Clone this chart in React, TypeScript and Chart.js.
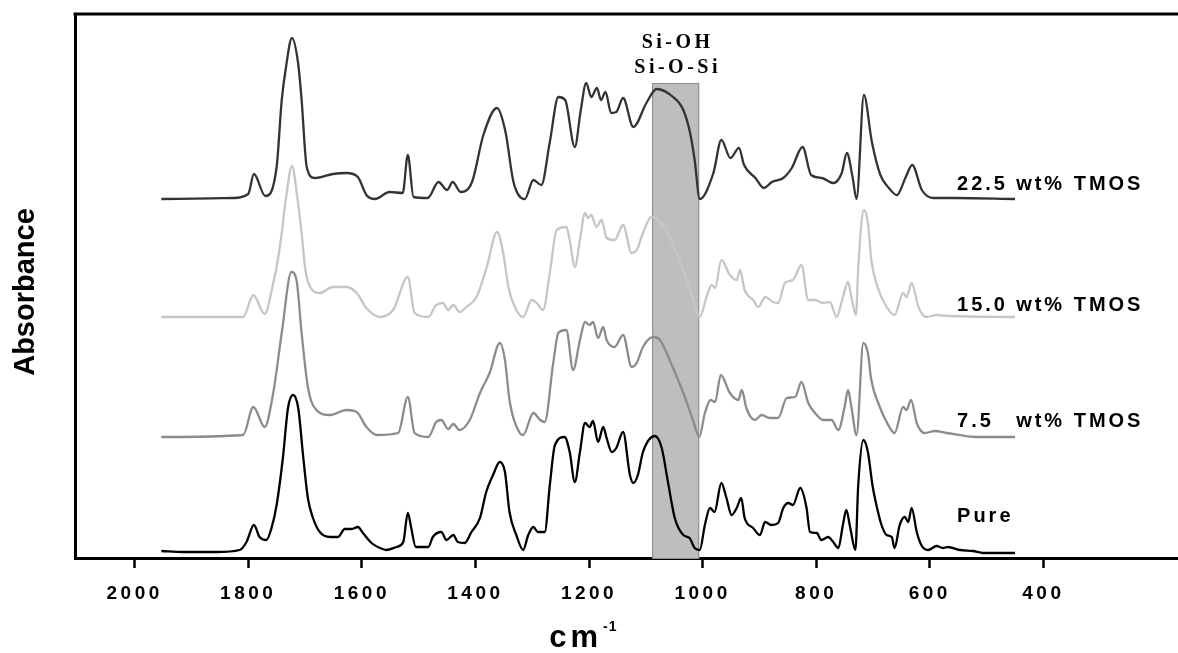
import React, { useEffect, useRef } from 'react';
import { Chart, registerables } from 'chart.js';

Chart.register(...registerables);

// ---- Axis ----
const tickValues = [2000, 1800, 1600, 1400, 1200, 1000, 800, 600, 400];
const xAxisMin = 163;
const xAxisMax = 2105;
const yAxisMax = 5.44;

// ---- Series names & vertical offsets (stacked spectra) ----
const seriesNumbers = ['Pure', '7.5', '15.0', '22.5'];
const seriesOffsets = [0.05, 1.21, 2.41, 3.59];
const seriesColors = ['#000000', '#8c8c8c', '#c6c6c6', '#333333'];

// ---- Pure ----
const pureWavenumber = [1953,1915,1856,1815,1803,1790,1780,1768,1759,1750,1739,1730,1721,1712,1703,1695,1686,1674,1656,1642,1630,1618,1607,1598,1583,1568,1557,1539,1527,1519,1513,1505,1483,1475,1460,1451,1439,1431,1419,1407,1392,1381,1369,1357,1348,1340,1328,1316,1307,1298,1290,1278,1269,1260,1243,1234,1225,1216,1207,1199,1193,1184,1175,1169,1160,1152,1140,1128,1122,1114,1105,1084,1072,1061,1049,1034,1023,1014,1005,996,987,979,967,958,949,940,932,926,911,899,890,879,867,858,849,841,828,817,811,799,791,779,770,761,753,747,740,731,726,717,709,701,694,685,676,667,662,653,644,638,632,623,615,603,588,577,568,547,524,506,450];
const pureAbsorbance = [0.02,0.01,0.01,0.03,0.11,0.28,0.16,0.13,0.25,0.48,0.95,1.45,1.58,1.45,0.95,0.55,0.35,0.21,0.16,0.16,0.24,0.24,0.26,0.20,0.10,0.05,0.03,0.06,0.11,0.40,0.25,0.06,0.06,0.16,0.21,0.13,0.18,0.11,0.10,0.21,0.35,0.61,0.78,0.91,0.81,0.41,0.18,0.03,0.18,0.26,0.21,0.21,0.68,1.08,1.16,1.01,0.71,1.01,1.30,1.26,1.32,1.11,1.26,1.15,1.01,1.05,1.21,0.78,0.70,0.78,1.01,1.17,1.05,0.71,0.35,0.18,0.15,0.05,0.03,0.28,0.45,0.41,0.70,0.55,0.38,0.45,0.55,0.35,0.25,0.18,0.31,0.28,0.30,0.45,0.50,0.48,0.65,0.45,0.21,0.20,0.13,0.16,0.11,0.05,0.28,0.43,0.25,0.03,0.68,1.13,1.01,0.68,0.48,0.28,0.18,0.16,0.05,0.28,0.36,0.31,0.45,0.21,0.08,0.03,0.07,0.05,0.06,0.03,0.02,0.00,0.00];

// ---- 7.5 wt% TMOS ----
const tmos75Wavenumber = [1953,1809,1791,1771,1756,1741,1724,1715,1706,1695,1680,1656,1627,1609,1592,1574,1536,1519,1507,1483,1469,1460,1448,1439,1428,1410,1392,1375,1357,1348,1340,1322,1316,1298,1286,1278,1263,1254,1240,1228,1216,1207,1199,1193,1184,1175,1169,1155,1140,1125,1116,1105,1087,1075,1058,1034,1017,1006,996,986,978,968,952,937,931,923,908,896,882,867,852,837,826,814,802,788,773,761,750,744,738,729,717,709,703,688,676,662,647,641,633,623,609,591,570,518,450];
const tmos75Absorbance = [0,0.02,0.30,0.10,0.44,1.04,1.65,1.57,1.04,0.50,0.27,0.22,0.27,0.25,0.10,0.02,0.04,0.40,0.04,0.00,0.15,0.17,0.08,0.13,0.07,0.17,0.44,0.64,0.94,0.77,0.37,0.04,0.02,0.24,0.17,0.15,0.74,1.04,1.07,0.67,0.97,1.15,1.12,1.15,0.99,1.10,0.97,0.90,1.02,0.70,0.74,0.90,1.00,0.97,0.77,0.44,0.17,0.00,0.24,0.37,0.35,0.62,0.44,0.37,0.47,0.29,0.17,0.22,0.19,0.19,0.39,0.40,0.55,0.34,0.24,0.17,0.17,0.07,0.30,0.47,0.30,0.02,0.94,0.84,0.57,0.30,0.15,0.04,0.30,0.27,0.37,0.14,0.04,0.06,0.04,0,0];

// ---- 15.0 wt% TMOS ----
const tmos150Wavenumber = [1953,1809,1791,1771,1756,1750,1741,1734,1723,1713,1706,1700,1694,1674,1651,1627,1609,1592,1568,1545,1519,1507,1483,1469,1457,1448,1439,1428,1416,1398,1380,1362,1351,1342,1328,1316,1301,1292,1281,1269,1257,1240,1234,1225,1216,1207,1202,1196,1187,1178,1169,1155,1140,1125,1116,1105,1090,1070,1050,1030,1015,1005,993,984,978,967,952,940,934,926,911,902,890,876,867,855,841,826,814,802,788,776,764,753,744,738,730,726,716,709,703,692,676,662,647,641,632,620,606,588,565,450];
const tmos150Absorbance = [0,0,0.22,0.03,0.34,0.50,0.84,1.17,1.51,1.17,0.84,0.50,0.34,0.24,0.30,0.30,0.24,0.09,0.00,0.07,0.40,0.04,0.00,0.12,0.14,0.07,0.12,0.05,0.10,0.20,0.50,0.85,0.64,0.30,0.07,0.00,0.17,0.14,0.07,0.44,0.87,0.90,0.77,0.50,0.77,1.04,0.99,1.02,0.90,0.97,0.79,0.77,0.92,0.64,0.67,0.84,1.00,0.92,0.70,0.40,0.15,0.00,0.20,0.32,0.29,0.57,0.42,0.37,0.47,0.27,0.17,0.10,0.20,0.15,0.14,0.34,0.37,0.52,0.17,0.17,0.14,0.15,0.00,0.20,0.35,0.20,0.02,0.50,1.07,0.94,0.57,0.30,0.10,0.02,0.24,0.20,0.34,0.10,0.00,0.02,0.01,0];

// ---- 22.5 wt% TMOS ----
const tmos225Wavenumber = [1953,1827,1800,1790,1770,1750,1741,1734,1723,1712,1706,1697,1683,1651,1627,1607,1592,1577,1551,1528,1519,1509,1484,1465,1450,1440,1426,1406,1386,1362,1347,1333,1313,1298,1284,1269,1254,1242,1225,1215,1205,1196,1186,1179,1171,1161,1152,1140,1122,1099,1081,1052,1034,1022,1014,1005,981,967,951,936,927,907,892,878,858,843,824,809,790,770,755,746,736,729,716,702,687,672,658,643,631,614,594,555,450];
const tmos225Absorbance = [0,0.01,0.05,0.25,0.03,0.32,0.99,1.30,1.61,1.35,0.99,0.32,0.21,0.25,0.26,0.22,0.04,0.00,0.07,0.06,0.44,0.02,0.01,0.17,0.09,0.17,0.07,0.17,0.64,0.91,0.67,0.17,0.00,0.19,0.14,0.57,1.02,0.99,0.52,0.87,1.16,1.02,1.11,0.99,1.07,0.86,0.87,1.01,0.72,0.96,1.10,1.02,0.89,0.66,0.39,0.00,0.26,0.59,0.41,0.51,0.34,0.21,0.11,0.17,0.21,0.31,0.52,0.24,0.21,0.16,0.26,0.46,0.22,0.00,1.04,0.57,0.24,0.11,0.04,0.21,0.34,0.09,0.01,0.01,0];

// ---- Highlighted band ----
const bandRange = [1089, 1006];
const bandTop = 4.75;
const bandLabels = ['Si-OH', 'Si-O-Si'];

// ---- Label anchors (data coords) ----
const labelNumberX = 552;
const labelUnitX = 448;
const labelUnitText = 'wt% TMOS';
const labelY = [0.42, 1.37, 2.53, 3.74];

const SANS = '"Liberation Sans", Arial, sans-serif';
const SERIF = '"Liberation Serif", "Times New Roman", serif';

function makePoints(wn: number[], ab: number[], off: number) {
  return wn.map((w, i) => ({ x: w, y: ab[i] + off }));
}

const overlayPlugin = {
  id: 'overlay',
  beforeDraw(chart: any) {
    chart.ctx.letterSpacing = '3.5px';
  },
  beforeDatasetsDraw(chart: any) {
    const { ctx, chartArea, scales } = chart;
    const x = scales.x, y = scales.y;
    const xa = x.getPixelForValue(bandRange[0]);
    const xb = x.getPixelForValue(bandRange[1]);
    const yt = y.getPixelForValue(bandTop);
    const left = Math.min(xa, xb), w = Math.abs(xb - xa);
    ctx.save();
    ctx.fillStyle = '#bebebe';
    ctx.fillRect(left, yt, w, chartArea.bottom - yt);
    ctx.strokeStyle = '#8c8c8c';
    ctx.lineWidth = 1;
    ctx.strokeRect(left + 0.5, yt + 0.5, w - 1, chartArea.bottom - yt);
    ctx.restore();
  },
  afterDraw(chart: any) {
    const { ctx, chartArea, scales } = chart;
    const x = scales.x, y = scales.y;
    ctx.save();
    // top frame line
    ctx.strokeStyle = '#000';
    ctx.lineWidth = 3;
    ctx.beginPath();
    ctx.moveTo(chartArea.left - 1.5, chartArea.top);
    ctx.lineTo(chartArea.right, chartArea.top);
    ctx.stroke();

    // band labels
    const bandCx = (x.getPixelForValue(bandRange[0]) + x.getPixelForValue(bandRange[1])) / 2;
    ctx.fillStyle = '#000';
    ctx.font = `bold 20px ${SERIF}`;
    ctx.letterSpacing = '3.5px';
    ctx.textAlign = 'center';
    ctx.textBaseline = 'middle';
    ctx.fillText(bandLabels[0], bandCx + 2, y.getPixelForValue(5.15));
    ctx.fillText(bandLabels[1], bandCx + 2, y.getPixelForValue(4.90));

    // series labels
    ctx.font = `bold 20px ${SANS}`;
    ctx.letterSpacing = '3px';
    ctx.textAlign = 'left';
    seriesNumbers.forEach((num, i) => {
      const py = y.getPixelForValue(labelY[i]);
      ctx.fillText(num, x.getPixelForValue(labelNumberX), py);
      if (i > 0) ctx.fillText(labelUnitText, x.getPixelForValue(labelUnitX), py);
    });

    // y axis title
    ctx.letterSpacing = '0px';
    ctx.font = `bold 29px ${SANS}`;
    ctx.textAlign = 'center';
    ctx.textBaseline = 'middle';
    ctx.translate(26, (chartArea.top + chartArea.bottom) / 2 + 6);
    ctx.rotate(-Math.PI / 2);
    ctx.fillText('Absorbance', 0, 0);
    ctx.setTransform(1, 0, 0, 1, 0, 0);

    // x axis title: cm^-1
    const cx = x.getPixelForValue(1200);
    ctx.font = `bold 31px ${SANS}`;
    ctx.letterSpacing = '4px';
    ctx.textAlign = 'right';
    ctx.textBaseline = 'alphabetic';
    ctx.fillText('cm', cx + 13, 647);
    ctx.font = `bold 14px ${SANS}`;
    ctx.letterSpacing = '1px';
    ctx.textAlign = 'left';
    ctx.fillText('-1', cx + 14, 631);
    ctx.restore();
  },
};

export default function App() {
  const ref = useRef<HTMLCanvasElement>(null);
  useEffect(() => {
    if (!ref.current) return;
    const wns = [pureWavenumber, tmos75Wavenumber, tmos150Wavenumber, tmos225Wavenumber];
    const abs = [pureAbsorbance, tmos75Absorbance, tmos150Absorbance, tmos225Absorbance];
    const datasets = seriesNumbers.map((name, i) => ({
      label: i === 0 ? name : `${name} ${labelUnitText}`,
      data: makePoints(wns[i], abs[i], seriesOffsets[i]),
      borderColor: seriesColors[i],
      backgroundColor: seriesColors[i],
      borderWidth: 2.3,
      pointRadius: 0,
      fill: false,
      cubicInterpolationMode: 'monotone' as const,
    }));
    const chart = new Chart(ref.current, {
      type: 'line',
      data: { datasets },
      options: {
        animation: false,
        responsive: false,
        maintainAspectRatio: false,
        layout: { padding: { top: 14, left: 0, right: 0, bottom: 0 } },
        plugins: { legend: { display: false }, tooltip: { enabled: false }, title: { display: false } },
        scales: {
          x: {
            type: 'linear',
            reverse: true,
            min: xAxisMin,
            max: xAxisMax,
            afterFit: (s: any) => { s.height = 95; },
            afterBuildTicks: (s: any) => { s.ticks = tickValues.map((v) => ({ value: v })); },
            grid: { drawOnChartArea: false, drawTicks: true, tickLength: 10, tickWidth: 2.5, tickColor: '#000' },
            border: { display: true, width: 3, color: '#000' },
            ticks: {
              autoSkip: false,
              maxRotation: 0,
              padding: 14,
              color: '#000',
              font: { family: SANS, size: 19, weight: 'bold' },
              callback: (v: any) => String(v),
            },
          },
          y: {
            min: 0,
            max: yAxisMax,
            afterFit: (s: any) => { s.width = 75; },
            ticks: { display: false },
            grid: { display: false },
            border: { display: true, width: 3, color: '#000' },
          },
        },
      },
      plugins: [overlayPlugin],
    });
    return () => chart.destroy();
  }, []);
  return (
    <div style={{ position: 'fixed', left: 0, top: 0, width: 1178, height: 653, overflow: 'hidden', background: '#fff' }}>
      <canvas ref={ref} width={1178} height={653} style={{ display: 'block' }} />
    </div>
  );
}
